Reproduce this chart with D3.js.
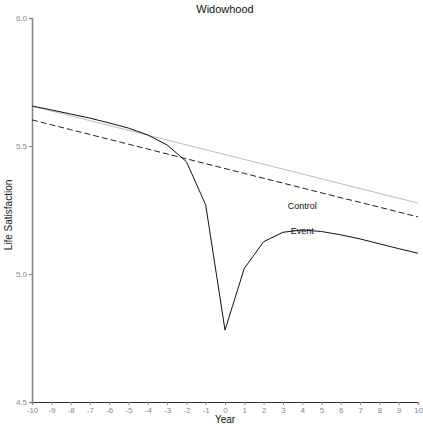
<!DOCTYPE html>
<html lang="en">
  <head>
    <meta charset="utf-8">
    <title>Widowhood</title>
    <style>
      body { margin: 0; background: #fff; }
      svg { display: block; }
      text { font-family: 'Liberation Sans', Arial, sans-serif; }
      .tick text { fill: #888; font-size: 8px; }
      .tick line { stroke: #888; }
    </style>
  </head>
  <body>
    <div id="viz"></div>
    <script src="https://d3js.org/d3.v7.min.js"></script>
    <script>
      const years = d3.range(-10, 11);
      const eventVals = [5.656, 5.641, 5.625, 5.609, 5.590, 5.570, 5.543, 5.504, 5.439, 5.270,
                         4.781, 5.022, 5.126, 5.163, 5.172, 5.166, 5.153, 5.137, 5.118, 5.099, 5.081];
      const controlVals = [5.602, 5.583, 5.564, 5.545, 5.526, 5.507, 5.488, 5.469, 5.450, 5.431,
                           5.412, 5.393, 5.374, 5.355, 5.336, 5.317, 5.298, 5.280, 5.261, 5.242, 5.223];
      const trendYears = [-10, 10];
      const trendVals = [5.656, 5.277];
      const yTicks = [4.5, 5.0, 5.5, 6.0];

      const W = 423, H = 424;
      const margin = { top: 18, right: 5, bottom: 22, left: 32 };

      const svg = d3.select("#viz").append("svg")
        .attr("width", W).attr("height", H);

      const x = d3.scaleLinear().domain([-10, 10]).range([margin.left, W - margin.right]);
      const y = d3.scaleLinear().domain([4.5, 6.0]).range([H - margin.bottom, margin.top]);

      // axes
      svg.append("g")
        .attr("transform", `translate(0,${H - margin.bottom})`)
        .call(d3.axisBottom(x).tickValues(years).tickSize(3).tickPadding(2).tickFormat(d => String(d)))
        .call(g => g.select(".domain").attr("stroke", "#333").attr("stroke-width", 1.2));

      svg.append("g")
        .attr("transform", `translate(${margin.left},0)`)
        .call(d3.axisLeft(y).tickValues(yTicks).tickSize(3).tickPadding(2).tickFormat(d3.format(".1f")))
        .call(g => g.select(".domain").attr("stroke", "#888").attr("stroke-width", 1.6));

      const line = d3.line().x(d => x(d[0])).y(d => y(d[1]));

      svg.append("path")
        .datum(d3.zip(trendYears, trendVals))
        .attr("fill", "none").attr("stroke", "#bbb").attr("stroke-width", 1)
        .attr("d", line);

      svg.append("path")
        .datum(d3.zip(years, controlVals))
        .attr("fill", "none").attr("stroke", "#222").attr("stroke-width", 1)
        .attr("stroke-dasharray", "6 3")
        .attr("d", line);

      svg.append("path")
        .datum(d3.zip(years, eventVals))
        .attr("fill", "none").attr("stroke", "#111").attr("stroke-width", 1)
        .attr("d", line);

      // labels
      svg.append("text").attr("x", x(4)).attr("y", y(5.253)).attr("text-anchor", "middle")
        .attr("font-size", 9).attr("fill", "#111").text("Control");
      svg.append("text").attr("x", x(4)).attr("y", y(5.155)).attr("text-anchor", "middle")
        .attr("font-size", 9).attr("fill", "#111").text("Event");

      svg.append("text").attr("x", x(0)).attr("y", 13).attr("text-anchor", "middle")
        .attr("font-size", 11).attr("fill", "#111").text("Widowhood");
      svg.append("text").attr("x", x(0)).attr("y", 423).attr("text-anchor", "middle")
        .attr("font-size", 10).attr("fill", "#111").text("Year");
      svg.append("text")
        .attr("transform", `translate(12,${(margin.top + H - margin.bottom) / 2 + 5}) rotate(-90)`)
        .attr("text-anchor", "middle")
        .attr("font-size", 10).attr("fill", "#111").text("Life Satisfaction");
    </script>
  </body>
</html>
